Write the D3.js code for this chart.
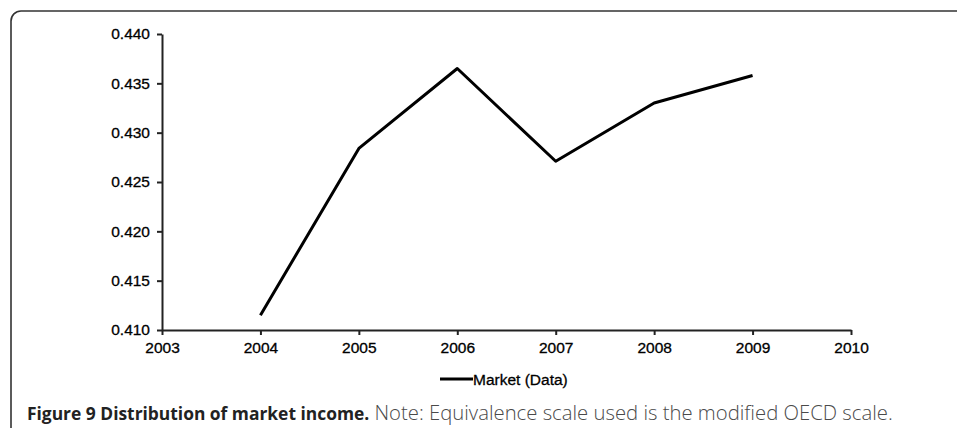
<!DOCTYPE html>
<html>
<head>
<meta charset="utf-8">
<script src="https://d3js.org/d3.v7.min.js"></script>
<style>
  body { margin: 0; background: #fff; }
  svg { display: block; }
</style>
</head>
<body>
<div id="container"></div>
<script>
const WIDTH = 957;
const HEIGHT = 428;

// valores
const years = [2004, 2005, 2006, 2007, 2008, 2009];
const marketData = [0.4115, 0.4284, 0.4365, 0.4271, 0.4330, 0.4358];
const xTicks = [2003, 2004, 2005, 2006, 2007, 2008, 2009, 2010];
const yTicks = [0.410, 0.415, 0.420, 0.425, 0.430, 0.435, 0.440];
const seriesName = 'Market (Data)';

const svg = d3.select('#container')
  .append('svg')
    .attr('width', WIDTH)
    .attr('height', HEIGHT);

// marco redondeado (solo se ven borde superior e izquierdo)
svg.append('rect')
  .attr('x', 11).attr('y', 11)
  .attr('width', 1000).attr('height', 500)
  .attr('rx', 10)
  .attr('fill', 'none')
  .attr('stroke', '#333')
  .attr('stroke-width', 1.6);

const x = d3.scaleLinear().domain([2003, 2010]).range([162, 851]);
const y = d3.scaleLinear().domain([0.410, 0.440]).range([330, 34]);

const font = 'Liberation Sans, Arial, sans-serif';

const xAxis = svg.append('g')
  .attr('transform', `translate(0, ${y(0.410)})`)
  .call(d3.axisBottom(x).tickValues(xTicks).tickFormat(d3.format('d')).tickSize(5).tickPadding(5).tickSizeOuter(0));

const yAxis = svg.append('g')
  .attr('transform', `translate(${x(2003)}, 0)`)
  .call(d3.axisLeft(y).tickValues(yTicks).tickFormat(d3.format('.3f')).tickSize(5).tickPadding(7).tickSizeOuter(0));

[xAxis, yAxis].forEach(a => {
  a.select('.domain').attr('stroke', '#222').attr('stroke-width', 2);
  a.selectAll('.tick line').attr('stroke', '#222').attr('stroke-width', 2);
  a.selectAll('.tick text')
    .attr('fill', '#000')
    .attr('stroke', '#000')
    .attr('stroke-width', 0.3)
    .style('font-family', font)
    .style('font-size', '15.5px');
});
xAxis.selectAll('.tick text').attr('dy', '0.85em');

const line = d3.line()
  .x((d, i) => x(years[i]))
  .y(d => y(d));

svg.append('path')
  .datum(marketData)
  .attr('d', line)
  .attr('fill', 'none')
  .attr('stroke', '#000')
  .attr('stroke-width', 3)
  .attr('stroke-linejoin', 'round');

// leyenda
const legend = svg.append('g').attr('transform', 'translate(440, 379)');
legend.append('line')
  .attr('x1', 0).attr('x2', 33)
  .attr('y1', 0).attr('y2', 0)
  .attr('stroke', '#000').attr('stroke-width', 3);
legend.append('text')
  .attr('x', 33).attr('y', 5.5)
  .text(seriesName)
  .attr('fill', '#000')
  .attr('stroke', '#000')
  .attr('stroke-width', 0.3)
  .style('font-family', font)
  .style('font-size', '15.5px');

// pie de figura
const caption = svg.append('text')
  .attr('x', 27).attr('y', 420)
  .style('font-family', 'Open Sans, sans-serif');
caption.append('tspan')
  .attr('font-weight', 'bold')
  .attr('fill', '#222')
  .style('font-size', '17.4px')
  .text('Figure 9 Distribution of market income.');
caption.append('tspan')
  .attr('fill', '#4a4a4a')
  .attr('font-weight', 300)
  .style('font-size', '20.3px')
  .text(' Note: Equivalence scale used is the modified OECD scale.');
</script>
</body>
</html>
